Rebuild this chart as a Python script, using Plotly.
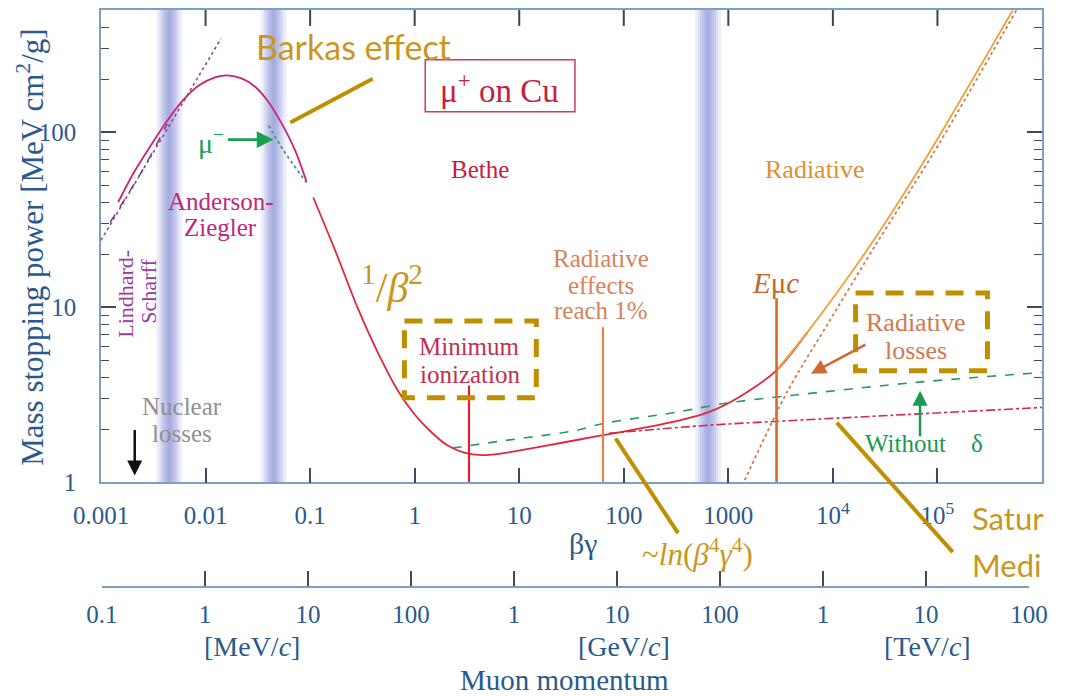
import plotly.graph_objects as go

# ---------------- data : beta*gamma  vs  mass stopping power [MeV cm2/g] ----------------
az_bg   = [0.00146, 0.00203, 0.00292, 0.00420, 0.00604, 0.00869, 0.01253, 0.01614, 0.0224, 0.0300, 0.0401, 0.0537, 0.0719, 0.0927]
az_dedx = [40.0, 58.1, 82.4, 114.5, 152, 186, 207, 212, 203, 182, 149, 112, 78.9, 52.0]

# total mu+ curve (Bethe region + radiative rise)
bethe_bg   = [0.1072, 0.1734, 0.2864, 0.4436, 0.687, 0.995, 1.413, 2.05, 2.97, 4.40, 6.11, 12.6, 26.4, 54.2,
              162, 311, 640, 1346, 2891, 5689]
bethe_dedx = [42.5, 21.2, 9.87, 5.53, 3.36, 2.45, 1.96, 1.63, 1.48, 1.43, 1.45, 1.56, 1.69, 1.83,
              2.06, 2.23, 2.51, 3.14, 4.37, 7.20]

rad_bg   = [2891, 5689, 21130, 78340, 523600]
rad_dedx = [4.37, 7.20, 21.2, 72.0, 498]

nodelta_bg   = [2.3, 6.11, 35.1, 63.2, 311, 929, 4010, 62950, 1.0e6]
nodelta_dedx = [1.57, 1.71, 1.98, 2.17, 2.51, 2.83, 3.14, 3.73, 4.25]

ionly_bg   = [72.1, 640, 2767, 38020, 1.0e6]
ionly_dedx = [1.91, 2.12, 2.23, 2.42, 2.68]

radonly_bg   = [1436, 3673, 8810, 24600, 91200, 571000]
radonly_dedx = [1.03, 3.31, 7.94, 21.9, 75.9, 501]

muminus_bg   = [0.0401, 0.0557, 0.092]
muminus_dedx = [109.6, 78.9, 51.8]

lindhard_bg   = [0.001, 0.01406]
lindhard_dedx = [24.2, 344]

lsdash_bg   = [0.00122, 0.0025, 0.0043]
lsdash_dedx = [30.6, 61, 112]

# vertical markers: (beta*gamma, top value)
minion_bg, minion_top = 3.31, 3.58
rad1pct_bg, rad1pct_top = 63.2, 7.7
emuc_bg, emuc_top = 2891, 11.3

band_centers = [0.0045, 0.0448, 640]

bg_tickvals = [0.001, 0.01, 0.1, 1, 10, 100, 1000, 1e4, 1e5, 1e6]
bg_ticktext = ["0.001", "0.01", "0.1", "1", "10", "100", "1000", "10<sup>4</sup>", "10<sup>5</sup>", ""]
p_tickvals = [0.1, 1, 10, 100, 1e3, 1e4, 1e5, 1e6, 1e7, 1e8]   # MeV/c
p_ticktext = ["0.1", "1", "10", "100", "1", "10", "100", "1", "10", "100"]
y_tickvals = [1, 10, 100]
y_ticktext = ["1", "10", "100"]
y_minor = [2, 3, 4, 5, 6, 7, 8, 9, 20, 30, 40, 50, 60, 70, 80, 90, 200, 300, 400, 500]

# ---------------- styling ----------------
W, H = 1069, 696
L, R, T, B = 101, 19, 8, 109
PW, PH = W - L - R, H - T - B
SERIF = "Liberation Serif"
SANS = "Lato"
BLUE = "#2a5a8c"
AXC = "#7f9fbf"
TICKC = "#3a4a60"
GOLD = "#c9971f"
GOLDL = "#bf8f00"


def P(px, py):
    return (px - L) / PW, (H - B - py) / PH


fig = go.Figure()


def line(x, y, color, width=1.6, dash="solid", spline=True, smooth=0.8):
    ln = dict(color=color, width=width, dash=dash, shape="spline" if spline else "linear")
    if spline:
        ln["smoothing"] = smooth
    fig.add_trace(go.Scatter(x=x, y=y, mode="lines", line=ln, hoverinfo="skip", showlegend=False))


line(lindhard_bg, lindhard_dedx, "#8a4a9a", 1.6, "dot", False)
line(lsdash_bg, lsdash_dedx, "#6a3a7a", 1.4, "dash")
line(az_bg, az_dedx, "#cc2277", 1.8)
line(muminus_bg, muminus_dedx, "#3aa070", 1.8, "dot")
line(nodelta_bg, nodelta_dedx, "#2a9a5a", 1.6, "dash")
line(ionly_bg, ionly_dedx, "#d8284a", 1.6, "dashdot")
line(radonly_bg, radonly_dedx, "#d07a50", 1.8, "dot")
line(bethe_bg, bethe_dedx, "#e0283c", 1.8)
line(rad_bg, rad_dedx, "#f2a03a", 1.8)

# vertical markers
line([minion_bg, minion_bg], [1, minion_top], "#e02030", 2.2, spline=False)
line([rad1pct_bg, rad1pct_bg], [1, rad1pct_top], "#ec8040", 2.2, spline=False)
line([emuc_bg, emuc_bg], [1, emuc_top], "#d86a2a", 2.6, spline=False)

# dummy trace for momentum axis
fig.add_trace(go.Scatter(x=[0.1, 1e8], y=[1, 1], xaxis="x2", yaxis="y", mode="markers",
                         marker=dict(opacity=0, size=1), hoverinfo="skip", showlegend=False))

shapes = []
# blue gradient bands
for c in band_centers:
    for hw in [13, 10, 8, 6, 4, 2]:
        d = 10 ** (hw / 105.4)
        shapes.append(dict(type="rect", xref="x", yref="y", x0=c / d, x1=c * d, y0=1, y1=10 ** 2.7,
                           fillcolor="rgba(80,100,200,0.11)", line=dict(width=0), layer="below"))

# top (mirrored) decade ticks of the beta*gamma axis
for v in bg_tickvals[1:-1]:
    shapes.append(dict(type="line", xref="x", yref="paper", x0=v, x1=v, y0=1, y1=1 - 16 / PH,
                       line=dict(color="#34465e", width=2), layer="above"))


def pline(p0, p1, color=GOLDL, width=4):
    x0, y0 = P(*p0)
    x1, y1 = P(*p1)
    shapes.append(dict(type="line", xref="paper", yref="paper", x0=x0, y0=y0, x1=x1, y1=y1,
                       line=dict(color=color, width=width)))


def prect(p0, p1, color, width, dash="solid"):
    x0, y0 = P(*p0)
    x1, y1 = P(*p1)
    shapes.append(dict(type="rect", xref="paper", yref="paper", x0=x0, y0=y0, x1=x1, y1=y1,
                       line=dict(color=color, width=width, dash=dash)))


pline((292, 121), (375, 77))
pline((620, 438), (683, 533))
pline((843, 422), (960, 552))
prect((407, 320), (540, 397), GOLDL, 5, "18px,12px")
prect((862, 292), (995, 370), GOLDL, 5, "18px,12px")
prect((428, 58), (579, 110), "#c84060", 1.5)

ann = []


def text(s, px, py, size=25, color=BLUE, font=SERIF, angle=0, xanchor="center"):
    x, y = P(px, py)
    ann.append(dict(text=s, x=x, y=y, xref="paper", yref="paper", showarrow=False,
                    xanchor=xanchor, yanchor="middle", textangle=angle,
                    font=dict(family=font, size=size, color=color)))


def arrow(head, tail, color, width=2.5):
    x, y = P(*head)
    ann.append(dict(text="", x=x, y=y, xref="paper", yref="paper", showarrow=True,
                    ax=tail[0] - head[0], ay=tail[1] - head[1], arrowhead=2, arrowsize=1.2,
                    arrowwidth=width, arrowcolor=color))


NB = "\u00a0"
text("Barkas effect", 356, 45, 34, GOLD, SANS)
text("μ<sup>+</sup> on Cu", 503, 86, 33, "#c8203c")
text("Bethe", 483, 168, 25, "#c8203c")
text("Radiative", 821, 168, 26, "#e09030")
text("Anderson-", 222, 200, 25, "#c02878")
text("Ziegler", 222, 226, 25, "#c02878")
text("Lindhard-", 125, 293, 22, "#9a3a9a", angle=-90)
text("Scharff", 148, 290, 22, "#9a3a9a", angle=-90)
text("Nuclear", 183, 406, 25, "#909090")
text("losses", 183, 433, 25, "#909090")
text("μ<sup>−</sup>", 212, 140, 28, "#18a050")
text("<sup>1</sup>/<i>β</i><sup>2</sup>", 394, 283, 42, GOLD)
text("Minimum", 473, 346, 25, "#c03050")
text("ionization", 473, 374, 25, "#c03050")
text("Radiative", 605, 257, 25, "#d4845a")
text("effects", 605, 284, 25, "#d4845a")
text("reach 1%", 605, 310, 25, "#d4845a")
text("<i>E</i>μ<i>c</i>", 781, 282, 29, "#c8662a")
text("Radiative", 923, 322, 26, "#d07850")
text("losses", 923, 350, 26, "#d07850")
text("Without" + NB * 4 + "δ", 931, 443, 25, "#1a9a50")
text("~<i>ln</i>(<i>β</i><sup>4</sup><i>γ</i><sup>4</sup>)", 703, 552, 31, GOLD)
text("Satur", 977, 518, 31, GOLD, SANS, xanchor="left")
text("Medi", 977, 565, 31, GOLD, SANS, xanchor="left")
text("βγ", 588, 543, 30, BLUE)
text("[MeV/<i>c</i>]", 253, 647, 28, BLUE)
text("[GeV/<i>c</i>]", 628, 647, 28, BLUE)
text("[TeV/<i>c</i>]", 935, 647, 28, BLUE)
text("Muon momentum", 568, 680, 29, BLUE)
text("Mass stopping power [MeV cm<sup>2</sup>/g]", 30, 246, 31, BLUE, angle=-90)

arrow((135, 475), (135, 428), "#111111", 2.5)
arrow((275, 138), (228, 138), "#18a050", 2.8)
arrow((817, 373), (873, 343), "#d06a30", 2.5)
arrow((927, 390), (927, 437), "#1a9a50", 2.5)

ydom0 = (H - B - 482) / PH

fig.update_layout(
    width=W, height=H, margin=dict(l=L, r=R, t=T, b=B),
    paper_bgcolor="white", plot_bgcolor="rgba(0,0,0,0)",
    shapes=shapes, annotations=ann, showlegend=False,
    xaxis=dict(type="log", range=[-3, 6], anchor="y", showgrid=False, zeroline=False,
               showline=True, linecolor=AXC, linewidth=1.5, mirror=True,
               ticks="inside", ticklen=15, tickwidth=1.5, tickcolor=TICKC,
               tickvals=bg_tickvals, ticktext=bg_ticktext, ticklabelstandoff=10,
               tickfont=dict(family=SERIF, size=25, color=BLUE)),
    xaxis2=dict(type="log", range=[-1, 8], domain=[(102 - L) / PW, (1037 - L) / PW],
                anchor="free", position=0, showgrid=False, zeroline=False,
                showline=True, linecolor=AXC, linewidth=1.5,
                ticks="inside", ticklen=15, tickwidth=1.5, tickcolor=TICKC,
                tickvals=p_tickvals, ticktext=p_ticktext, ticklabelstandoff=5,
                tickfont=dict(family=SERIF, size=25, color=BLUE)),
    yaxis=dict(type="log", range=[0, 2.7], domain=[ydom0, 1], showgrid=False, zeroline=False,
               showline=True, linecolor=AXC, linewidth=1.5, mirror="ticks",
               ticks="inside", ticklen=15, tickwidth=1.5, tickcolor=TICKC,
               tickvals=y_tickvals, ticktext=y_ticktext, ticklabelstandoff=18,
               minor=dict(ticks="inside", ticklen=8, tickwidth=1.2, tickcolor=TICKC,
                          tickvals=y_minor),
               tickfont=dict(family=SERIF, size=25, color=BLUE)),
)

fig.write_html("out.html")
